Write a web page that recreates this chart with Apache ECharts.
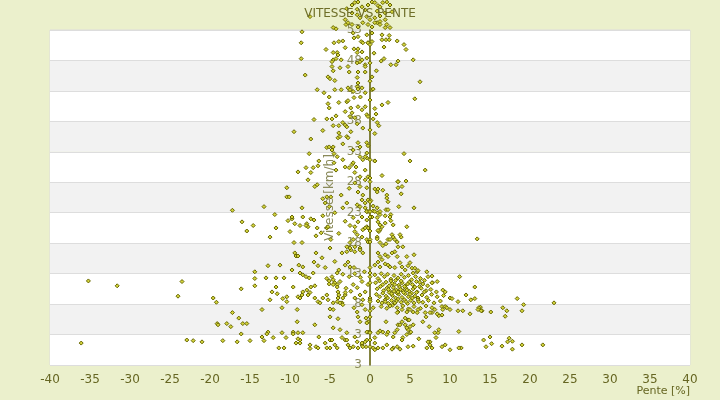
<!DOCTYPE html>
<html><head><meta charset="utf-8">
<script src="https://cdn.jsdelivr.net/npm/echarts@6/dist/echarts.min.js"></script>
<style>html,body{margin:0;padding:0;background:#ebf0cc}#c{width:720px;height:400px}</style>
</head><body><div id="c"></div>
<script>
const titre = 'VITESSE VS PENTE';
const nomX = 'Pente [%]';
const nomY = 'Vitesse [km/h]';
const yTickLabels = ['3','3','8','13','18','23','28','33','38','43','48','53'];

// [pente %, vitesse km/h]
const extremeGauche = [[-17.2,23.4],[-35.2,11.8],[-31.6,11.0],[-23.5,11.7],[-24.0,9.3],[-19.6,9.0],[-19.2,8.3],[-17.2,6.6],[-19.1,4.8],[-19.0,4.6],[-17.9,4.8],[-17.4,4.3],[-36.1,1.6],[-22.9,2.1],[-22.1,2.0],[-21.0,1.8],[-18.4,2.0]];

const droite = [[18.4,8.9],[19.2,7.9],[23.0,8.2],[13.8,7.5],[14.0,6.9],[15.1,6.7],[16.6,7.4],[17.1,6.9],[16.9,6.0],[19.0,6.9],[14.2,2.1],[15.0,2.6],[14.5,1.0],[15.2,1.5],[16.5,1.1],[17.4,2.4],[17.2,1.8],[17.8,1.9],[17.8,0.6],[19.0,1.3],[21.6,1.3],
[13.4,18.7],[11.2,12.5],[13.1,10.8],[12.0,9.5],[12.6,8.7],[13.1,8.9],[13.6,7.4],[13.9,6.9],[13.5,7.1],[11.6,6.9],[11.0,6.9],[12.5,6.4],[11.1,3.5],[11.4,0.8],[10.0,0.5],[11.1,0.8]];

const centreHaut = [[0.6,26.9],[1.0,26.9],[3.5,27.1],[3.9,26.1],[2.1,25.9],[-0.25,25.1],[0.1,25.0],[3.6,24.0],[5.5,23.8],[2.0,23.5],[2.25,23.5],[0.4,24.1],[0.4,23.3],[-0.4,23.2],[0.6,23.2],[1.0,23.0],[1.25,22.7],[2.6,22.7],[0.25,22.3],[0.9,22.2],[1.0,21.5],[2.6,21.7],[4.6,20.7],[1.5,20.7],[1.25,20.2],[1.1,19.9],[-0.4,20.7],[-0.25,20.5],[2.75,19.4],[2.9,19.0],[3.9,19.0],[0.9,19.0],[0.9,18.7],[-0.4,18.6],[-0.25,18.2],[2.25,18.6],[1.25,18.1],[1.6,17.6],[2.0,17.9],[3.4,18.2],[3.5,17.4],[4.1,17.4],[4.6,15.8],[5.5,16.1],[3.1,16.6],[3.4,15.8],[1.9,16.1],[2.25,15.8],[2.75,16.4],[1.0,16.4],[1.25,15.8],[1.5,15.3],[1.0,14.9],[0.6,14.4],[1.25,14.1],[1.9,14.6],[2.25,14.4],[2.5,14.1],[3.1,14.0],[3.75,14.8],[4.0,14.1],[4.75,14.3],[4.4,13.6],[5.25,13.9],[5.6,13.9],[5.9,13.3],[6.0,13.5],[5.4,13.1],[7.1,13.3],[7.25,12.5],[7.75,12.6],[5.0,14.8],
[0.6,31.5],[1.5,29.1],[3.5,28.1],[4.0,27.3],[1.6,26.7],[0.9,26.4],[2.25,24.8],[2.1,25.4],[0.9,23.8],[1.25,23.2],[1.9,22.5],[2.5,22.3],[1.0,20.1],[1.25,21.0],[1.9,21.3],[2.9,21.0],[3.75,19.4],[3.1,18.6],[2.5,18.6]];

const noyau = [[0.6,12.8],[1.0,12.2],[1.4,13.0],[1.8,12.5],[2.2,12.9],[2.6,12.1],[3.0,12.7],[3.5,12.3],[3.9,12.9],[4.3,12.4],[4.8,12.7],[5.2,12.0],[5.7,12.5],[6.3,12.2],[6.8,11.9],
[0.7,11.5],[1.2,11.8],[1.6,11.2],[2.0,11.6],[2.4,11.0],[2.8,11.4],[3.2,11.9],[3.6,11.1],[4.0,11.5],[4.4,11.0],[4.9,11.6],[5.3,11.2],[5.8,11.7],[6.2,10.9],[6.6,11.3],[7.2,11.0],[7.8,11.5],
[0.9,10.5],[1.3,10.9],[1.7,10.2],[2.1,10.6],[2.5,10.1],[2.9,10.7],[3.3,10.3],[3.7,10.8],[4.1,10.2],[4.5,10.6],[4.9,10.1],[5.4,10.5],[5.9,10.0],[6.4,10.6],[7.0,10.2],[7.6,10.4],[8.3,10.0],
[0.8,9.6],[1.2,9.2],[1.6,9.8],[2.0,9.3],[2.4,9.9],[2.8,9.4],[3.2,9.0],[3.6,9.6],[4.0,9.1],[4.4,9.7],[4.8,9.2],[5.2,9.8],[5.6,9.3],[6.0,9.0],[6.5,9.5],[7.1,9.1],[7.7,9.6],[8.4,9.2],[9.2,9.4],
[1.0,8.5],[1.5,8.2],[1.9,8.7],[2.3,8.1],[2.7,8.6],[3.1,8.2],[3.5,8.8],[3.9,8.3],[4.3,8.7],[4.7,8.1],[5.1,8.6],[5.5,8.2],[6.0,8.7],[6.6,8.3],[7.3,8.6],[8.0,8.2],[8.8,8.5],
[1.4,7.6],[2.1,7.3],[2.8,7.8],[3.4,7.4],[4.1,7.7],[4.8,7.2],[5.5,7.6],[6.3,7.3],[7.0,7.7],
[2.3,10.4],[2.7,9.7],[3.0,10.1],[3.4,9.8],[3.8,10.4],[4.2,9.9],[4.6,10.3],[5.0,9.6],[3.1,11.2],[3.9,11.8],[4.7,11.3],[2.6,11.8],[5.6,10.8],[3.5,10.0],[4.3,10.9],[2.2,9.0],[5.8,9.9],[6.8,10.0],[6.2,11.6],[3.3,8.5],[4.5,8.4],[5.3,9.0],[6.1,8.4],
[7.75,11.5],[8.4,11.7],[9.1,10.3],[9.4,10.0],[10.0,9.0],[10.25,8.9],[11.0,8.4],[9.0,7.6],[9.1,7.1],[9.4,7.6],[9.6,7.4],[10.0,7.1],[9.0,6.2],[8.6,6.1],[7.75,7.4],[7.75,6.6],[8.1,7.1],[8.4,6.4],[6.9,6.6],[7.5,6.6],[6.0,7.1],[5.9,6.6],[5.4,6.7],[5.0,7.1],[4.6,6.7],[4.0,7.1],[3.5,6.7],[3.4,6.6],
[1.9,8.4],[2.5,7.7],[3.1,8.2],[0.4,7.4],[0.0,6.9]];

const centreBas = [[9.0,1.0],[9.4,1.3],[8.5,3.3],[8.1,3.3],[8.25,2.5],[7.5,1.8],[7.5,1.3],[7.75,0.8],[7.1,0.8],[7.4,4.3],[5.0,4.3],[5.0,3.3],[4.75,3.8],[4.6,4.1],[4.6,3.0],[4.1,2.5],[4.0,2.1],[3.5,4.6],[3.4,3.8],[3.1,3.3],[2.9,2.6],[2.25,3.4],[2.1,3.0],[1.6,3.4],[1.25,3.6],[1.0,3.3],[2.9,0.8],[3.4,1.0],[2.1,1.3],[1.6,0.8],[5.4,1.1],[4.75,1.0],[0.6,2.5],[0.6,1.6],[0.4,0.8],[4.75,5.4],[4.9,5.4],[4.0,5.1],[3.75,4.6],[4.4,4.6],[5.1,3.4],[2.0,5.1],[-0.25,3.4],[-0.25,5.1],[-0.4,2.1],[0.6,0.5],[1.0,0.8],[2.75,0.6],[3.75,0.6],[7.25,1.8],[4.4,5.7],[5.4,4.6],[6.6,5.1],[7.0,5.9],[8.6,3.8],[6.1,2.3]];

const gaucheMilieu = [[-10.4,27.1],[-6.9,27.3],[-6.6,27.6],[-10.4,25.6],[-10.1,25.6],[-5.4,25.6],[-4.9,25.6],[-5.9,25.3],[-5.6,24.6],[-5.1,24.0],[-13.25,24.0],[-8.5,23.8],[-11.9,22.7],[-16.0,21.5],[-14.6,20.9],[-15.4,20.0],[-11.75,20.5],[-12.5,19.0],[-10.25,21.7],[-9.75,22.0],[-9.75,22.3],[-9.4,21.2],[-8.4,22.3],[-7.9,21.2],[-7.75,20.7],[-8.0,20.9],[-7.4,22.0],[-7.0,21.8],[-6.6,20.5],[-5.9,22.5],[-5.4,20.5],[-5.25,20.7],[-10.0,19.9],[-8.75,20.9],[-6.75,19.2],[-6.1,19.7],[-5.0,17.2],[-9.5,18.1],[-8.5,18.1],[-9.4,16.4],[-9.25,15.9],[-9.0,15.9],[-6.75,16.4],[-12.75,14.3],[-11.25,14.4],[-8.9,14.4],[-8.4,14.1],[-7.0,14.9],[-6.5,14.3],[-9.75,13.6],[-14.4,13.3],[-14.4,12.2],[-14.4,11.0],[-13.0,12.3],[-11.75,12.3],[-10.75,12.3],[-8.75,13.1],[-8.4,12.8],[-8.0,12.5],[-7.6,12.3],[-7.1,13.1],[-5.4,12.2],[-5.1,11.3],[-5.1,11.8],[-4.6,12.0],[-4.4,11.5],[-4.1,11.2],[-4.1,13.1],[-16.1,10.5],[-12.25,10.0],[-11.75,10.8],[-11.6,9.7],[-9.6,10.8],[-7.4,10.8],[-6.9,11.0],[-7.9,10.3],[-7.75,9.5],[-7.5,9.9],[-9.0,9.2],[-8.5,9.5],[-8.4,10.0],[-8.75,9.0],[-10.9,8.9],[-10.4,9.2],[-10.4,8.4],[-12.5,8.7],[-11.0,7.4],[-13.5,7.1],[-9.1,7.1],[-6.9,9.0],[-6.5,8.4],[-6.25,8.2],[-5.9,9.0],[-5.4,9.5],[-5.25,8.7],[-4.6,8.2],[-4.1,8.4],[-3.5,8.2],[-3.4,9.0],[-4.6,7.1],[-5.0,7.2],[-4.0,10.0],[-3.9,9.5],[-3.1,9.5],[-16.4,5.7],[-15.9,4.8],[-15.4,4.8],[-9.1,5.1],[-5.0,5.9],[-4.0,5.6],[-6.9,4.6],[-4.6,4.1],[-12.75,3.4],[-12.1,2.5],[-12.9,3.1],[-11.0,3.3],[-9.6,3.4],[-9.6,3.1],[-9.0,3.3],[-8.4,3.3],[-16.1,3.1],[-13.5,2.6],[-13.25,2.0],[-15.0,2.0],[-16.6,1.8],[-10.5,2.5],[-9.25,1.6],[-8.75,1.6],[-8.75,2.1],[-9.0,2.3],[-6.4,2.6],[-5.0,2.1],[-4.75,2.1],[-3.5,2.5],[-3.1,2.1],[-7.5,1.3],[-7.5,0.7],[-6.75,1.0],[-6.5,0.8],[-11.4,0.8],[-10.75,0.8],[-5.6,1.6],[-5.4,0.8],[-5.0,0.8],[-4.4,1.3],[-4.1,0.8],[-2.9,2.1],[-2.75,1.3],[-2.5,0.8],[-2.1,1.0],[-1.6,1.8],[-1.5,0.8],[-1.0,1.3],[-0.5,1.0],[-1.5,5.9],[-1.25,5.1],[-0.5,5.7],[-0.4,4.9],[-2.0,7.4],[-1.6,6.7],[-1.0,7.9],[-0.6,7.1],[-0.4,3.4],[-0.6,1.8],
[-3.5,16.4],[-2.9,17.4],[-2.5,18.1],[-2.1,18.6],[-3.1,14.4],[-2.75,14.9],[-2.5,14.1],[-2.0,14.0],[-2.4,16.9],[-1.9,16.6],[-1.25,17.2],[-0.9,16.4],[-1.9,19.9],[-1.6,19.4],[-1.0,19.0],[-0.6,20.5],[-2.1,22.2],[-1.5,21.5],[-1.0,22.3],[-0.4,21.8],[-1.6,24.3],[-1.0,25.1],[-0.6,23.8],[-0.25,23.2],[-1.5,26.4],[-0.9,25.9],[-0.4,27.1],[-2.9,24.6],[-3.4,23.8],[-2.1,11.2],[-1.6,10.7],[-1.0,11.7],[-0.6,10.0],[-0.25,11.2],[-1.9,9.0],[-1.25,9.5],[-0.9,8.7],
[-4.75,12.5],[-4.6,11.2],[-4.1,10.8],[-3.75,11.7],[-3.1,9.9],[-3.75,8.2],[-3.4,7.9],[-4.0,9.0],[-2.9,16.6],[-2.5,17.2],[-1.9,17.4],[-1.25,16.9],[-2.5,20.9],[-1.9,20.7],[-0.9,20.2],[-1.25,24.0],[-0.6,24.6],[-0.4,23.2],[-1.9,27.9],[-1.25,27.3],[-0.6,28.4],[-3.75,3.8],[-2.9,3.3],[-1.9,2.6],[-1.0,1.6],[-0.9,1.0],[-3.9,13.6],[-3.4,12.9],[-2.6,12.5],[-1.9,13.0],[-1.2,12.4],[-0.7,13.3],[-3.0,10.6],[-2.4,10.1],[-5.6,14.0],[-6.0,15.6],[-4.4,15.0],[-4.9,18.6],[-3.9,19.6],[-3.1,21.6],[-4.4,23.0],[-3.6,25.9],[-2.6,27.0]];

const gaucheHaut = [[-7.5,55.2],[-8.5,52.7],[-8.6,50.9],[-8.6,48.3],[-8.1,45.6],[-5.5,49.8],[-4.5,50.9],[-3.9,51.1],[-3.4,51.2],[-4.1,49.3],[-4.0,48.9],[-4.6,49.3],[-3.1,50.1],[-2.0,49.9],[-1.5,49.9],[-1.6,49.3],[-1.0,49.4],[-1.1,51.1],[-0.9,50.9],[-0.25,50.9],[-2.1,52.5],[-2.0,51.7],[-1.5,51.9],[-4.25,53.2],[-3.0,53.9],[-4.6,48.1],[-4.25,48.3],[-3.6,48.1],[-4.75,47.8],[-4.75,47.0],[-4.6,46.3],[-3.75,46.8],[-2.75,47.0],[-2.6,46.1],[-1.6,47.6],[-1.25,47.8],[-1.0,48.1],[-0.6,47.3],[-1.6,45.2],[-1.5,44.3],[-1.6,43.7],[-1.5,46.1],[-0.6,46.1],[-5.25,45.3],[-5.0,45.0],[-4.4,44.7],[-6.6,43.2],[-5.75,42.7],[-5.1,42.0],[-4.4,43.2],[-3.6,43.2],[-2.75,43.5],[-2.5,43.2],[-2.1,42.9],[-1.5,43.3],[-1.0,43.5],[-0.6,42.7],[-2.9,41.2],[-2.75,41.4],[-5.25,40.9],[-5.1,40.2],[-3.9,41.1],[-2.4,40.2],[-2.25,39.4],[-2.5,38.8],[-1.5,40.4],[-1.0,39.9],[-0.6,40.4],[-4.25,38.9],[-5.4,38.4],[-4.75,38.4],[-7.0,38.3],[-5.9,36.5],[-9.5,36.3],[-7.4,35.1],[-4.6,37.3],[-3.9,37.3],[-3.4,37.8],[-3.1,37.4],[-2.9,37.1],[-3.9,36.1],[-4.0,35.3],[-3.75,35.5],[-2.9,35.5],[-2.75,35.3],[-3.4,34.3],[-5.4,33.7],[-5.1,33.8],[-4.6,33.8],[-7.6,32.7],[-6.4,31.5],[-6.5,30.7],[-7.1,30.4],[-7.4,29.6],[-8.0,30.4],[-9.0,29.7],[-7.75,28.4],[-4.5,32.7],[-4.1,32.2],[-4.5,31.2],[-4.25,30.0],[-3.4,31.7],[-3.1,30.5],[-2.6,30.4],[-2.25,30.9],[-2.1,31.2],[-1.75,30.5],[-1.5,34.5],[-1.25,33.8],[-0.4,34.5],[-1.25,32.2],[-0.9,31.7],[-0.4,32.0],[-0.4,39.1],[-0.25,38.8],[-0.25,28.9],[-0.6,32.2],[-0.4,52.2],[-0.25,50.9],[-0.4,48.4],[-0.6,47.0],
[-4.75,33.3],[-2.1,33.3],[-0.4,32.8],[-1.9,29.6],[-1.25,28.9],[-0.6,30.0],[-2.4,36.3],[-1.6,37.6],[-0.9,36.9],[-1.9,38.6],[-3.1,39.6],[-2.0,41.9],[-1.2,42.0]];

const titreZone = [[-2.25,57.1],[-1.9,57.5],[-1.5,57.6],[-1.0,56.8],[-0.6,56.3],[-0.25,57.1],[0.25,57.6],[0.6,57.5],[1.0,57.0],[1.25,56.8],[1.6,57.5],[2.1,57.6],[2.5,57.1],[-2.25,55.8],[-1.6,55.5],[-1.25,55.0],[-0.4,55.2],[0.0,54.7],[0.6,55.0],[1.25,55.3],[1.9,55.8],[-2.75,54.2],[-2.25,53.9],[-1.5,53.5],[-0.9,54.2],[-0.25,53.9],[0.25,53.5],[0.9,54.2],[1.25,54.4],[-4.6,53.4],[1.9,53.4],[2.1,53.9],[-3.1,54.7],[2.75,56.0],[0.6,54.2],[1.25,53.9],[1.9,54.7],[2.5,53.4],[-1.6,56.4],[0.9,56.1],[-2.9,56.5]];

const droiteHaut = [[1.5,52.2],[2.4,52.1],[1.5,51.4],[2.0,51.4],[2.4,51.4],[3.4,51.2],[4.25,50.6],[4.5,49.8],[1.75,50.2],[5.4,48.1],[3.5,47.9],[3.25,47.3],[2.6,47.3],[1.4,47.9],[1.75,48.3],[6.25,44.5],[0.25,45.3],[5.6,41.7],[2.25,41.1],[1.5,40.7],[0.6,40.1],[0.75,39.2],[0.9,37.8],[1.1,37.3],[0.6,36.0],[-0.25,34.0],[4.25,32.7],[5.0,31.5],[6.9,30.0],[0.6,31.5],[3.5,28.1],[4.5,28.2],[0.25,51.1],[0.25,52.5],[0.0,47.6],[0.25,43.2],[0.4,43.3],[0.0,28.1],[0.5,49.2],[0.8,46.3],[0.4,38.4]];

const axeZero = [[0,31.7],[0,28.7],[0,24.8],[0,23.2],[0,22.3],[0,18.6],[0,18.2],[0,14.0],[0,13.1],[0,12.5],[0,11.5],[0,9.0],[0,8.7],[0,8.4],[0,5.9],[0,3.4],[0,3.3],[0,2.1],[0,1.0],[0,50.6],[0,41.5],[0,36.6],[0,44.6],[0,20.0]];

const mesures = [].concat(extremeGauche, droite, centreHaut, noyau, centreBas, gaucheMilieu, gaucheHaut, titreZone, droiteHaut, axeZero);

const chart = echarts.init(document.getElementById('c'));
chart.setOption({
  backgroundColor: '#ebf0cc',
  animation: false,
  textStyle: {fontFamily: 'DejaVu Sans'},
  title: [
    {text: titre, left: 'center', top: 3, textStyle: {fontSize: 12, fontWeight: 'normal', color: '#6e6e28', fontFamily: 'DejaVu Sans'}},
    {text: nomX, right: 30, top: 386, padding: 0, textStyle: {fontSize: 11, fontWeight: 'normal', color: '#666622', fontFamily: 'DejaVu Sans'}}
  ],
  grid: {left: 50, right: 30, top: 30, bottom: 35, containLabel: false, outerBoundsMode: 'none', show: true, borderColor: '#dddddd', borderWidth: 1, backgroundColor: 'transparent'},
  xAxis: {
    type: 'value', min: -40, max: 40, interval: 5,
    axisLine: {show: false}, axisTick: {show: false}, splitLine: {show: false},
    axisLabel: {color: '#666622', fontSize: 12, margin: 9}
  },
  yAxis: {
    type: 'value', min: -2, max: 53, interval: 5, position: 'left', offset: -320,
    name: nomY, nameLocation: 'middle', nameGap: 28,
    nameTextStyle: {color: '#8a8a5a', fontSize: 12},
    axisLine: {show: true, onZero: false, lineStyle: {color: '#5a5a00', width: 1.5}},
    axisTick: {show: false},
    axisLabel: {color: '#8a8a5a', fontSize: 12, margin: 8, formatter: function (v) { return yTickLabels[Math.round((v + 2) / 5)]; }},
    splitLine: {lineStyle: {color: '#dddddd'}},
    splitArea: {show: true, areaStyle: {color: ['#ffffff', '#f2f2f2']}}
  },
  series: [{
    type: 'scatter', data: mesures, symbol: 'diamond', symbolSize: 4, clip: false,
    itemStyle: {color: '#d4d43a', borderColor: '#666600', borderWidth: 1, opacity: 1}
  }]
});
</script>
</body></html>
